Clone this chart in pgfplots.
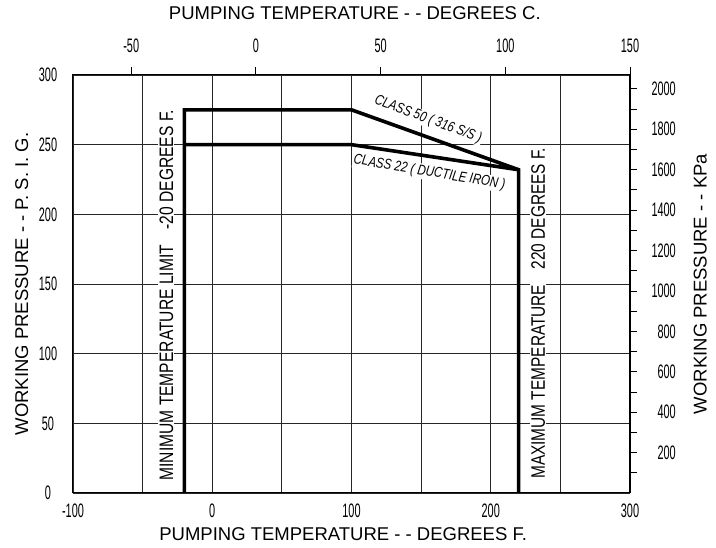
\documentclass[border=0pt]{standalone}
\usepackage{pgfplots}
\pgfplotsset{compat=1.18}
\usepackage{fontspec}
\setmainfont{Liberation Sans}
\usepackage{graphicx}
\newcommand{\cnd}[1]{\scalebox{0.56}[1]{#1}}
\newcommand{\tickfont}{\fontsize{19.5}{19.5}\selectfont}
\newcommand{\labfont}{\fontsize{18.5}{18.5}\selectfont}
\begin{document}
\begin{tikzpicture}
\useasboundingbox (-73pt,-55pt) rectangle (643pt,493pt);
% main axis: deg F and psig
\begin{axis}[
  at={(0pt,0pt)}, anchor=south west,
  scale only axis, width=557pt, height=418pt,
  xmin=-100, xmax=300, ymin=0, ymax=300,
  xtick={-100,0,100,200,300},
  xticklabels={\cnd{-100},\cnd{0},\cnd{100},\cnd{200},\cnd{300}},
  minor xtick={-50,50,150,250},
  ytick={0,50,100,150,200,250,300},
  yticklabels={\cnd{0},\cnd{50},\cnd{100},\cnd{150},\cnd{200},\cnd{250},\cnd{300}},
  major tick length=0pt, minor tick length=0pt,
  grid=both,
  grid style={black!85, line width=0.8pt},
  minor grid style={black!85, line width=0.8pt},
  axis line style={black, line width=1pt},
  tick label style={font=\tickfont},
  xticklabel style={anchor=center, yshift=-18pt},
  yticklabel style={anchor=center, xshift=-25pt},
  xlabel={PUMPING TEMPERATURE - - DEGREES F.},
  ylabel={WORKING PRESSURE - - P. S. I. G.},
  label style={font=\labfont},
  xlabel style={at={(axis description cs:0.485,-0.098)}, anchor=center},
  ylabel style={at={(axis description cs:-0.092,0.5)}, anchor=center},
  clip=false,
]
\node[rotate=90, fill=white, inner sep=1pt, font=\fontsize{19.5}{19.5}\selectfont]
  at (axis cs:-33,142) {\scalebox{0.80}[1]{MINIMUM TEMPERATURE LIMIT\hspace{1em}-20 DEGREES F.}};
\node[rotate=90, fill=white, inner sep=1pt, font=\fontsize{19.5}{19.5}\selectfont]
  at (axis cs:234,129) {\scalebox{0.79}[1]{MAXIMUM TEMPERATURE\hspace{1em}220 DEGREES F.}};
\node[rotate=-20, fill=white, inner sep=1pt, font=\fontsize{14.5}{14.5}\selectfont\itshape]
  at (axis cs:155,268) {\scalebox{0.8}[1]{CLASS 50 ( 316 S/S )}};
\node[rotate=-9.5, fill=white, inner sep=1pt, font=\fontsize{14.5}{14.5}\selectfont\itshape]
  at (axis cs:156,230) {\scalebox{0.8}[1]{CLASS 22 ( DUCTILE IRON )}};
\addplot[black, line width=3.6pt, line join=miter] coordinates {(-20,0) (-20,275) (100,275) (220,232) (220,0)};
\addplot[black, line width=3.6pt, line join=miter] coordinates {(-20,250) (100,250) (220,232)};
\end{axis}
% top axis: deg C
\begin{axis}[
  at={(0pt,0pt)}, anchor=south west,
  scale only axis, width=557pt, height=418pt,
  xmin=-73.333, xmax=150, ymin=0, ymax=1,
  axis x line*=top, axis y line=none,
  xtick={-50,0,50,100,150},
  xticklabels={\cnd{-50},\cnd{0},\cnd{50},\cnd{100},\cnd{150}},
  tick align=outside, major tick length=8pt,
  tick style={black, line width=0.8pt},
  axis line style={black, line width=1pt},
  tick label style={font=\tickfont},
  xticklabel style={anchor=center, yshift=21pt},
  xlabel={PUMPING TEMPERATURE - - DEGREES C.},
  xlabel style={font=\labfont, at={(axis description cs:0.506,1.148)}, anchor=center},
]
\end{axis}
% right axis: kPa
\begin{axis}[
  at={(0pt,0pt)}, anchor=south west,
  scale only axis, width=557pt, height=418pt,
  xmin=0, xmax=1, ymin=0, ymax=2068.43,
  axis y line*=right, axis x line=none,
  ytick={200,400,600,800,1000,1200,1400,1600,1800,2000},
  minor ytick={100,300,500,700,900,1100,1300,1500,1700,1900},
  yticklabels={\cnd{200},\cnd{400},\cnd{600},\cnd{800},\cnd{1000},\cnd{1200},\cnd{1400},\cnd{1600},\cnd{1800},\cnd{2000}},
  tick align=outside, major tick length=7pt, minor tick length=7pt,
  tick style={black, line width=0.8pt},
  axis line style={black, line width=1pt},
  tick label style={font=\tickfont},
  yticklabel style={anchor=east, inner sep=0pt, xshift=39pt},
  ylabel={WORKING PRESSURE - - KPa},
  ylabel style={font=\labfont, at={(axis description cs:1.126,0.5)}, anchor=center},
]
\end{axis}
\end{tikzpicture}
\end{document}
